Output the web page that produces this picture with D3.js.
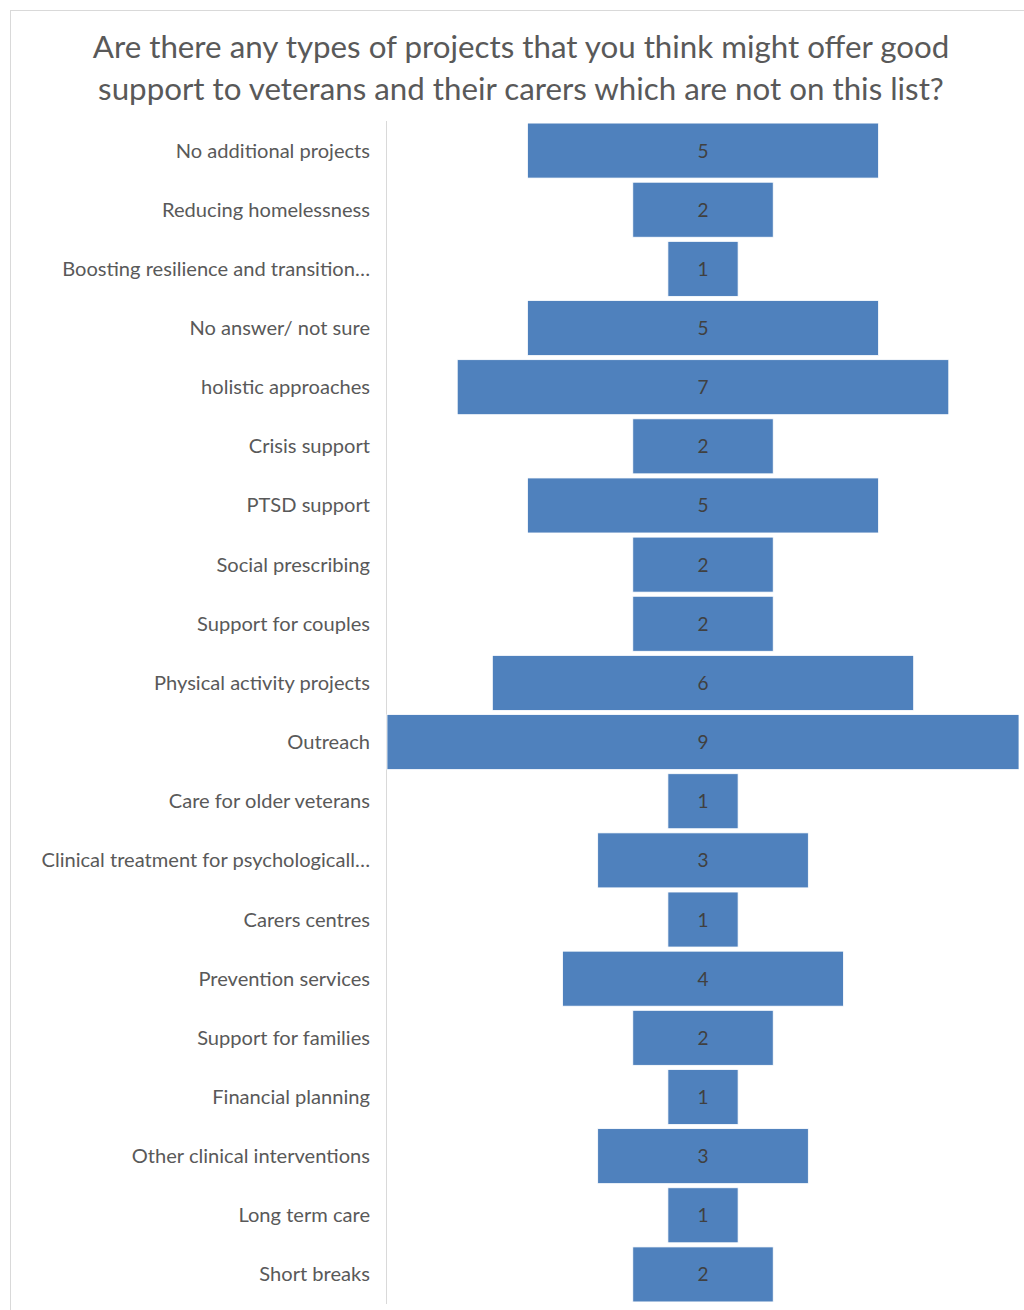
<!DOCTYPE html>
<html>
<head>
<meta charset="utf-8">
<script src="https://cdn.jsdelivr.net/npm/d3@7"></script>
<style>
  body { margin: 0; background: #fff; }
  svg { display: block; }
</style>
</head>
<body>
<svg id="chart" width="1024" height="1310"></svg>
<script>
const titleLines = [
  'Are there any types of projects that you think might offer good',
  'support to veterans and their carers which are not on this list?'
];

const categories = [
  'No additional projects',
  'Reducing homelessness',
  'Boosting resilience and transition…',
  'No answer/ not sure',
  'holistic approaches',
  'Crisis support',
  'PTSD support',
  'Social prescribing',
  'Support for couples',
  'Physical activity projects',
  'Outreach',
  'Care for older veterans',
  'Clinical treatment for psychologicall…',
  'Carers centres',
  'Prevention services',
  'Support for families',
  'Financial planning',
  'Other clinical interventions',
  'Long term care',
  'Short breaks'
];

const counts = [5, 2, 1, 5, 7, 2, 5, 2, 2, 6, 9, 1, 3, 1, 4, 2, 1, 3, 1, 2];

const svg = d3.select('#chart');
const font = 'Lato, "Open Sans", sans-serif';

// рамка области диаграммы
svg.append('rect')
  .attr('x', 10.5).attr('y', 10.5)
  .attr('width', 1030).attr('height', 1320)
  .style('fill', 'none')
  .style('stroke', '#d9d9d9');

// заголовок
svg.append('g')
  .selectAll('text')
  .data(titleLines)
  .join('text')
  .attr('x', 521)
  .attr('y', (d, i) => 58 + i * 42)
  .attr('text-anchor', 'middle')
  .style('font-family', font)
  .style('font-size', '31.3px')
  .style('fill', '#595959')
  .text(d => d);

const plotLeft = 387;
const center = 703;

const y = d3.scaleBand()
  .domain(categories)
  .range([121, 1304])
  .paddingInner(0.07)
  .paddingOuter(0.035);

const w = d3.scaleLinear()
  .domain([0, d3.max(counts)])
  .range([0, 632]);

// ось категорий
svg.append('line')
  .attr('x1', plotLeft - 0.5).attr('x2', plotLeft - 0.5)
  .attr('y1', 121).attr('y2', 1304)
  .style('stroke', '#d9d9d9');

const rows = svg.append('g')
  .selectAll('g')
  .data(categories.map((c, i) => ({ c, v: counts[i] })))
  .join('g')
  .attr('transform', d => `translate(0, ${y(d.c)})`);

rows.append('rect')
  .attr('x', d => center - w(d.v) / 2)
  .attr('width', d => w(d.v))
  .attr('height', y.bandwidth())
  .style('fill', '#4f81bd')
  .style('stroke', '#ffffff')
  .style('stroke-width', 0.8);

rows.append('text')
  .attr('x', center)
  .attr('y', y.bandwidth() / 2 + 7)
  .attr('text-anchor', 'middle')
  .style('font-family', font)
  .style('font-size', '19px')
  .style('fill', '#404040')
  .text(d => d.v);

rows.append('text')
  .attr('x', 370)
  .attr('y', y.bandwidth() / 2 + 7)
  .attr('text-anchor', 'end')
  .style('font-family', font)
  .style('font-size', '20.1px')
  .style('fill', '#595959')
  .text(d => d.c);
</script>
</body>
</html>
